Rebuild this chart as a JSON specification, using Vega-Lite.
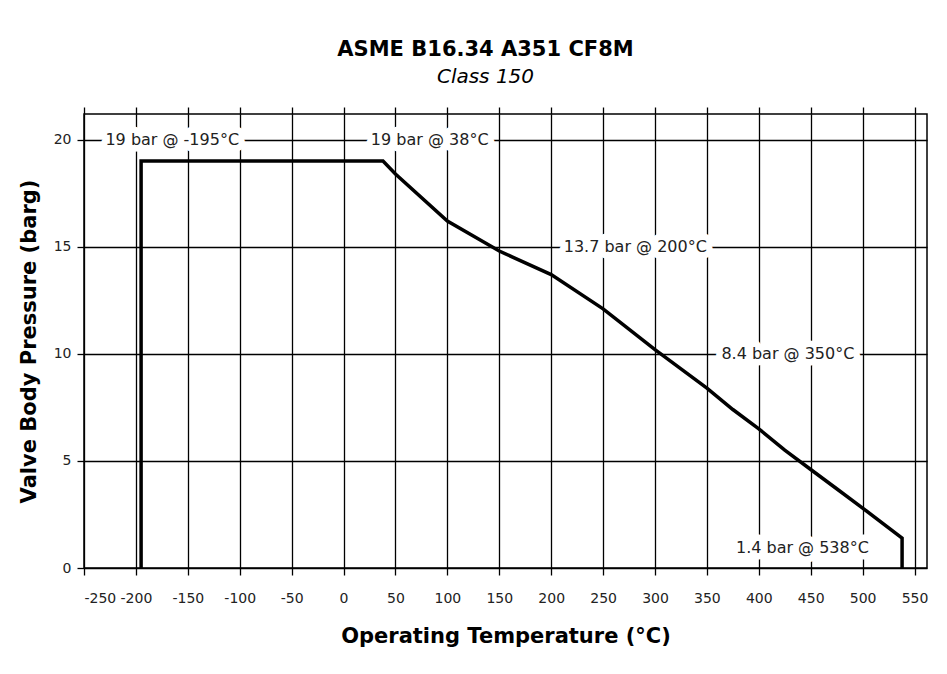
{
  "$schema": "https://vega.github.io/schema/vega-lite/v6.json",
  "autosize": {"type": "none"},
  "width": 843,
  "height": 454,
  "padding": {"left": 84, "top": 114, "right": 20, "bottom": 106},
  "background": "white",
  "title": {
    "text": "ASME B16.34 A351 CF8M",
    "subtitle": "Class 150",
    "font": "DejaVu Sans",
    "fontSize": 21,
    "fontWeight": "bold",
    "color": "black",
    "subtitleFont": "DejaVu Sans",
    "subtitleFontSize": 20,
    "subtitleFontStyle": "italic",
    "subtitleColor": "black",
    "subtitlePadding": 7,
    "anchor": "middle",
    "dx": -20,
    "offset": 19
  },
  "datasets": {
    "curve": [
      {"t": -195, "p": 0, "o": 0},
      {"t": -195, "p": 19, "o": 1},
      {"t": 38, "p": 19, "o": 2},
      {"t": 50, "p": 18.4, "o": 3},
      {"t": 100, "p": 16.2, "o": 4},
      {"t": 150, "p": 14.8, "o": 5},
      {"t": 200, "p": 13.7, "o": 6},
      {"t": 250, "p": 12.1, "o": 7},
      {"t": 300, "p": 10.2, "o": 8},
      {"t": 325, "p": 9.3, "o": 9},
      {"t": 350, "p": 8.4, "o": 10},
      {"t": 375, "p": 7.4, "o": 11},
      {"t": 400, "p": 6.5, "o": 12},
      {"t": 425, "p": 5.5, "o": 13},
      {"t": 450, "p": 4.6, "o": 14},
      {"t": 475, "p": 3.7, "o": 15},
      {"t": 500, "p": 2.8, "o": 16},
      {"t": 538, "p": 1.4, "o": 17},
      {"t": 538, "p": 0, "o": 18}
    ],
    "labels": [
      {"lt": -165, "lp": 20, "label": "19 bar @ -195°C"},
      {"lt": 83, "lp": 20, "label": "19 bar @ 38°C"},
      {"lt": 281, "lp": 15, "label": "13.7 bar @ 200°C"},
      {"lt": 428, "lp": 10, "label": "8.4 bar @ 350°C"},
      {"lt": 442, "lp": 0.93, "label": "1.4 bar @ 538°C"}
    ]
  },
  "config": {
    "view": {"stroke": "black", "strokeWidth": 1.5},
    "axis": {
      "labelFont": "DejaVu Sans",
      "labelFontSize": 14,
      "labelColor": "#222",
      "labelOverlap": false,
      "labelExpr": "replace(datum.label, '\u2212', '-')",
      "titleFont": "DejaVu Sans",
      "titleFontSize": 21,
      "titleFontWeight": "bold",
      "titleColor": "black",
      "gridColor": "black",
      "gridOpacity": 1,
      "gridWidth": 1.3,
      "tickColor": "black",
      "tickWidth": 1.3,
      "tickSize": 7,
      "domain": false
    }
  },
  "resolve": {"axis": {"x": "independent"}},
  "layer": [
    {
      "data": {"name": "curve"},
      "mark": {"type": "line", "color": "black", "strokeWidth": 3.5, "strokeJoin": "miter"},
      "encoding": {
        "x": {
          "field": "t", "type": "quantitative",
          "scale": {"domain": [-250, 562], "nice": false, "zero": false},
          "axis": {"values": [-250,-200,-150,-100,-50,0,50,100,150,200,250,300,350,400,450,500,550], "title": "Operating Temperature (°C)", "titlePadding": 20, "labelPadding": 16}
        },
        "y": {
          "field": "p", "type": "quantitative",
          "scale": {"domain": [0, 21.2], "nice": false},
          "axis": {"values": [0, 5, 10, 15, 20], "title": "Valve Body Pressure (barg)", "titlePadding": 14, "labelPadding": 6}
        },
        "order": {"field": "o", "type": "quantitative"}
      }
    },
    {
      "data": {"name": "curve"},
      "mark": {"type": "point", "opacity": 0},
      "encoding": {
        "x": {
          "field": "t", "type": "quantitative",
          "scale": {"domain": [-250, 562], "nice": false, "zero": false},
          "axis": {"orient": "top", "values": [-250,-200,-150,-100,-50,0,50,100,150,200,250,300,350,400,450,500,550], "labels": false, "grid": false, "title": null}
        },
        "y": {"field": "p", "type": "quantitative"}
      }
    },
    {
      "data": {"name": "labels"},
      "mark": {"type": "text", "font": "DejaVu Sans", "fontSize": 16, "stroke": "white", "strokeWidth": 13, "fill": "white", "strokeJoin": "round"},
      "encoding": {
        "x": {"field": "lt", "type": "quantitative", "axis": null},
        "y": {"field": "lp", "type": "quantitative"},
        "text": {"field": "label"}
      }
    },
    {
      "data": {"name": "labels"},
      "mark": {"type": "text", "font": "DejaVu Sans", "fontSize": 16, "color": "#222"},
      "encoding": {
        "x": {"field": "lt", "type": "quantitative", "axis": null},
        "y": {"field": "lp", "type": "quantitative"},
        "text": {"field": "label"}
      }
    }
  ]
}
